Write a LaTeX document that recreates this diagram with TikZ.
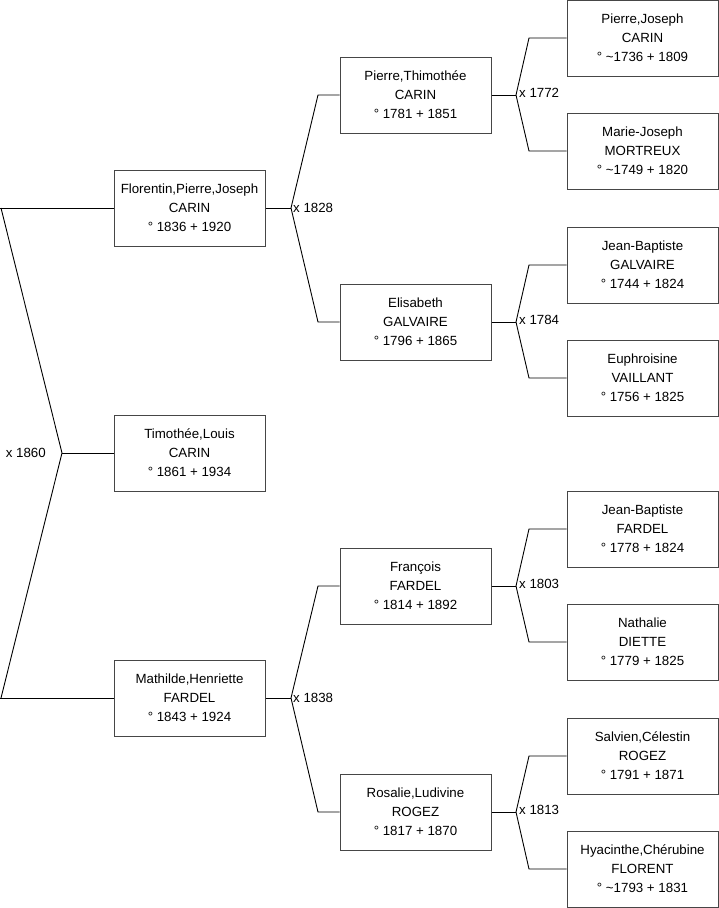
\documentclass[tikz,border=0pt]{standalone}
\usepackage{fontspec}
\setmainfont{Liberation Sans}
\begin{document}
\begin{tikzpicture}[x=1pt,y=-1pt,
  pbox/.style={draw={rgb,255:red,70;green,70;blue,70},line width=1pt,minimum width=151pt,minimum height=76pt,
    inner sep=0pt,align=center,font=\fontsize{13.3}{19}\selectfont,fill=white},
  link/.style={draw=black,line width=0.9pt},
  mlabel/.style={font=\fontsize{13.3}{15}\selectfont,inner sep=0pt}]
\useasboundingbox (0,0) rectangle (719,908);
% generation 1
\node[pbox] (f) at (189.5,208) {Florentin,Pierre,Joseph\\CARIN\\° 1836 + 1920};
\node[pbox] (t) at (189.5,453) {Timothée,Louis\\CARIN\\° 1861 + 1934};
\node[pbox] (m) at (189.5,698) {Mathilde,Henriette\\FARDEL\\° 1843 + 1924};
% generation 2
\node[pbox] (pt) at (415.5,95) {Pierre,Thimothée\\CARIN\\° 1781 + 1851};
\node[pbox] (el) at (415.5,322) {Elisabeth\\GALVAIRE\\° 1796 + 1865};
\node[pbox] (fr) at (415.5,586) {François\\FARDEL\\° 1814 + 1892};
\node[pbox] (ro) at (415.5,812) {Rosalie,Ludivine\\ROGEZ\\° 1817 + 1870};
% generation 3
\node[pbox] (pj) at (642.5,38) {Pierre,Joseph\\CARIN\\° \textasciitilde1736 + 1809};
\node[pbox] (mj) at (642.5,151) {Marie-Joseph\\MORTREUX\\° \textasciitilde1749 + 1820};
\node[pbox] (jbg) at (642.5,265) {Jean-Baptiste\\GALVAIRE\\° 1744 + 1824};
\node[pbox] (eu) at (642.5,378) {Euphroisine\\VAILLANT\\° 1756 + 1825};
\node[pbox] (jbf) at (642.5,529) {Jean-Baptiste\\FARDEL\\° 1778 + 1824};
\node[pbox] (na) at (642.5,642) {Nathalie\\DIETTE\\° 1779 + 1825};
\node[pbox] (sc) at (642.5,756) {Salvien,Célestin\\ROGEZ\\° 1791 + 1871};
\node[pbox] (hc) at (642.5,869) {Hyacinthe,Chérubine\\FLORENT\\° \textasciitilde1793 + 1831};
% junction coordinates
\coordinate (r0) at (0,208);
\coordinate (r1) at (1,208);
\coordinate (r2) at (1,698);
\coordinate (r3) at (0,698);
\coordinate (j0) at (62,453);
\coordinate (j1) at (291,208);
\coordinate (a1) at (318,95);
\coordinate (b1) at (318,322);
\coordinate (j2) at (291,698);
\coordinate (a2) at (318,586);
\coordinate (b2) at (318,812);
\coordinate (j3) at (516,95);
\coordinate (a3) at (529,38);
\coordinate (b3) at (529,151);
\coordinate (j4) at (516,322);
\coordinate (a4) at (529,265);
\coordinate (b4) at (529,378);
\coordinate (j5) at (516,586);
\coordinate (a5) at (529,529);
\coordinate (b5) at (529,642);
\coordinate (j6) at (516,812);
\coordinate (a6) at (529,756);
\coordinate (b6) at (529,869);
% links
\draw[link] (r0) -- (f.west);
\draw[link] (r1) -- (j0) -- (r2);
\draw[link] (r3) -- (m.west);
\draw[link] (j0) -- (t.west);
\draw[link] (f.east) -- (j1);
\draw[link] (pt.west) -- (a1) -- (j1) -- (b1) -- (el.west);
\draw[link] (m.east) -- (j2);
\draw[link] (fr.west) -- (a2) -- (j2) -- (b2) -- (ro.west);
\draw[link] (pt.east) -- (j3);
\draw[link] (pj.west) -- (a3) -- (j3) -- (b3) -- (mj.west);
\draw[link] (el.east) -- (j4);
\draw[link] (jbg.west) -- (a4) -- (j4) -- (b4) -- (eu.west);
\draw[link] (fr.east) -- (j5);
\draw[link] (jbf.west) -- (a5) -- (j5) -- (b5) -- (na.west);
\draw[link] (ro.east) -- (j6);
\draw[link] (sc.west) -- (a6) -- (j6) -- (b6) -- (hc.west);
% marriage labels
\node[mlabel,anchor=east] (l0) at (46,452.5) {x 1860};
\node[mlabel,anchor=west] (l1) at (293,207.5) {x 1828};
\node[mlabel,anchor=west] (l2) at (293,697.5) {x 1838};
\node[mlabel,anchor=west] (l3) at (519,92.5) {x 1772};
\node[mlabel,anchor=west] (l4) at (519,319.5) {x 1784};
\node[mlabel,anchor=west] (l5) at (519,583.5) {x 1803};
\node[mlabel,anchor=west] (l6) at (519,809.5) {x 1813};
\end{tikzpicture}
\end{document}
